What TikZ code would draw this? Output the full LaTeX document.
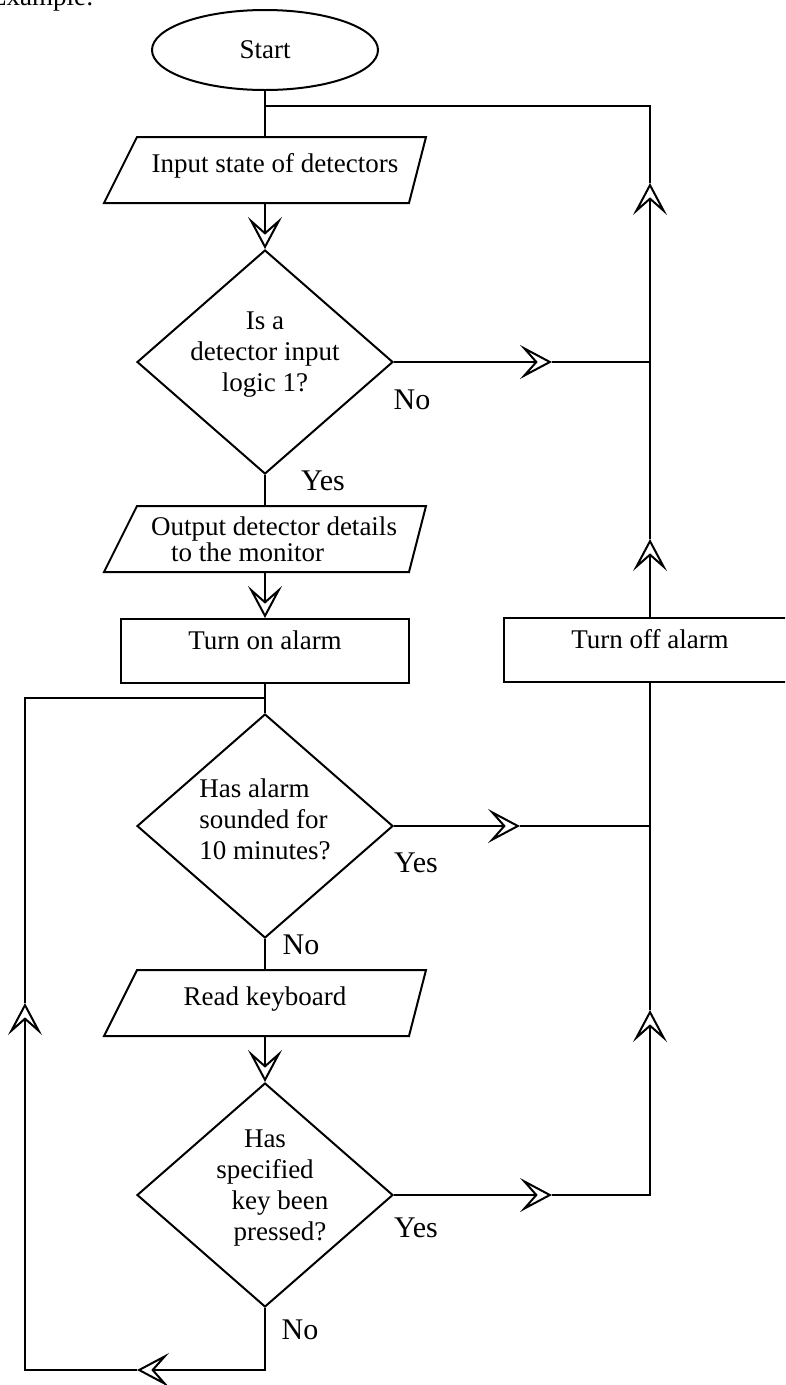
\documentclass[tikz,border=0pt]{standalone}
\usepackage{fontspec}
\setmainfont{Liberation Serif}
\usetikzlibrary{positioning,shapes.geometric,arrows.meta}

% slanted box round an io node
\newcommand\ioframe[1]{\draw ([xshift=33pt]#1.north west) -- (#1.north east)
    -- ([xshift=-17pt]#1.south east) -- (#1.south west) -- cycle;}

\begin{document}
\begin{tikzpicture}[
    x=1pt, y=-1pt,
    line width=2pt,
    every node/.style={font=\fontsize{27}{31}\selectfont},
    terminal/.style={ellipse, draw, minimum width=226pt, minimum height=80pt, inner sep=0pt},
    io/.style={rectangle, minimum width=320pt, minimum height=64pt, inner sep=0pt, text depth=14pt},
    process/.style={rectangle, draw, minimum height=64pt, inner sep=0pt, text depth=22pt},
    decision/.style={diamond, draw, minimum width=256pt, minimum height=224pt, inner sep=0pt},
    question/.style={yshift=7pt},
    answer/.style={font=\fontsize{30}{34}\selectfont},
    flow/.style={-{Stealth[open, length=32pt, width=34pt, inset=15pt]}}
]
\clip (0,0) rectangle (785,1385);

% cut off heading
\node[anchor=base east] (head) at (98,5) {Example:};

% main column
\node[terminal] (start) at (265,50) {Start};
\node[io] (input) at (265,170) {\hspace*{20pt}Input state of detectors};
\node[decision, label={[question, align=center]center:Is a\\detector input\\logic 1?}] (d1) at (265,362) {};
\node[io, text depth=6pt, label={[align=left, xshift=9pt, font=\fontsize{27}{26}\selectfont]center:Output detector details\\\hspace*{20pt}to the monitor}]
    (output) at (265,539) {};
\node[process, minimum width=288pt] (alarmon) at (265,651) {Turn on alarm};
\node[decision, label={[question, align=left]center:Has alarm\\sounded for\\10 minutes?}] (d2) at (265,826) {};
\node[io] (keyboard) at (265,1003) {Read keyboard};
\node[decision, label={[question, align=center]center:Has\\specified\\\hspace*{30pt}key been\\\hspace*{30pt}pressed?}] (d3) at (265,1195) {};

\ioframe{input}
\ioframe{output}
\ioframe{keyboard}

% right column
\node[process, minimum width=292pt] (alarmoff) at (650,650) {Turn off alarm};

% answers
\node[answer] (no1) at (412,400) {No};
\node[answer] (yes1) at (323,481) {Yes};
\node[answer] (yes2) at (416,863) {Yes};
\node[answer] (no2) at (301,945) {No};
\node[answer] (yes3) at (416,1228) {Yes};
\node[answer] (no3) at (300,1330) {No};

% joints and arrow points
\coordinate (j1) at (265,106);
\coordinate (j2) at (265,698);
\coordinate (a1) at (552,362);
\coordinate (a2) at (520,826);
\coordinate (a3) at (552,1195);
\coordinate (r1) at (650,362);
\coordinate (r2) at (650,826);
\coordinate (u1) at (650,183);
\coordinate (u2) at (650,539);
\coordinate (u3) at (650,1010);
\coordinate (b1) at (137,1370);
\coordinate (l1) at (25,1003);

% connectors
\draw (start) -- (j1) -- (input);
\draw[flow] (input) -- (d1);
\draw (d1) -- (output);
\draw[flow] (output) -- (alarmon);
\draw (alarmon) -- (j2) -- (d2);
\draw (d2) -- (keyboard);
\draw[flow] (keyboard) -- (d3);

\draw[flow] (d1.east) -- (a1);
\draw (a1) -- (r1);
\draw[flow] (d2.east) -- (a2);
\draw (a2) -- (r2);
\draw[flow] (d3.east) -- (a3);
\draw[flow] (a3) -| (u3);
\draw (u3) -- (alarmoff);
\draw[flow] (alarmoff) -- (u2);
\draw[flow] (u2) -- (u1);
\draw (u1) |- (j1);

\draw[flow] (d3.south) |- (b1);
\draw[flow] (b1) -| (l1);
\draw (l1) |- (j2);
\end{tikzpicture}
\end{document}
